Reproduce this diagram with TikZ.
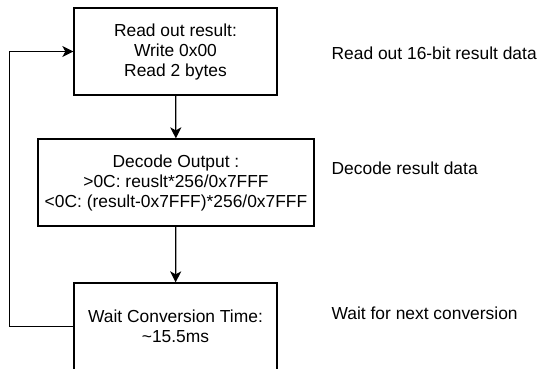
\documentclass[tikz,border=0pt]{standalone}
\usepackage{fontspec}
\setmainfont{Liberation Sans}
\usetikzlibrary{arrows.meta}

\begin{document}
\begin{tikzpicture}[x=1pt,y=-1pt,line width=1.3pt,font=\fontsize{17.4}{20}\selectfont,
  stage/.style={draw,minimum height=87pt,align=center,inner sep=0pt},
  flow/.style={-{Stealth[length=11pt,width=11pt,inset=3pt]}}]
\useasboundingbox (0,0) rectangle (537,368);
\clip (0,0) rectangle (537,368);
% flow stages
\node[stage,minimum width=203pt] (read) at (175.5,51.5) {Read out result:\\Write 0x00\\Read 2 bytes};
\node[stage,minimum width=276pt] (decode) at (176,182.5) {Decode Output :\\>0C: reuslt*256/0x7FFF\\<0C: (result-0x7FFF)*256/0x7FFF};
\node[stage,minimum width=203pt] (wait) at (175.5,326.5) {Wait Conversion Time:\\\textasciitilde15.5ms};
% connectors
\draw[flow] (read) -- (decode);\draw[flow] (decode) -- (wait);
\draw[flow] (wait.west) -- ++(-64,0) |- (read.west);
% notes
\node[anchor=west,inner sep=0pt] (readnote) at (331,53) {Read out 16-bit result data};
\node[anchor=west,inner sep=0pt] (decodenote) at (331,168) {Decode result data};
\node[anchor=west,inner sep=0pt] (waitnote) at (331,313) {Wait for next conversion};
\end{tikzpicture}
\end{document}
